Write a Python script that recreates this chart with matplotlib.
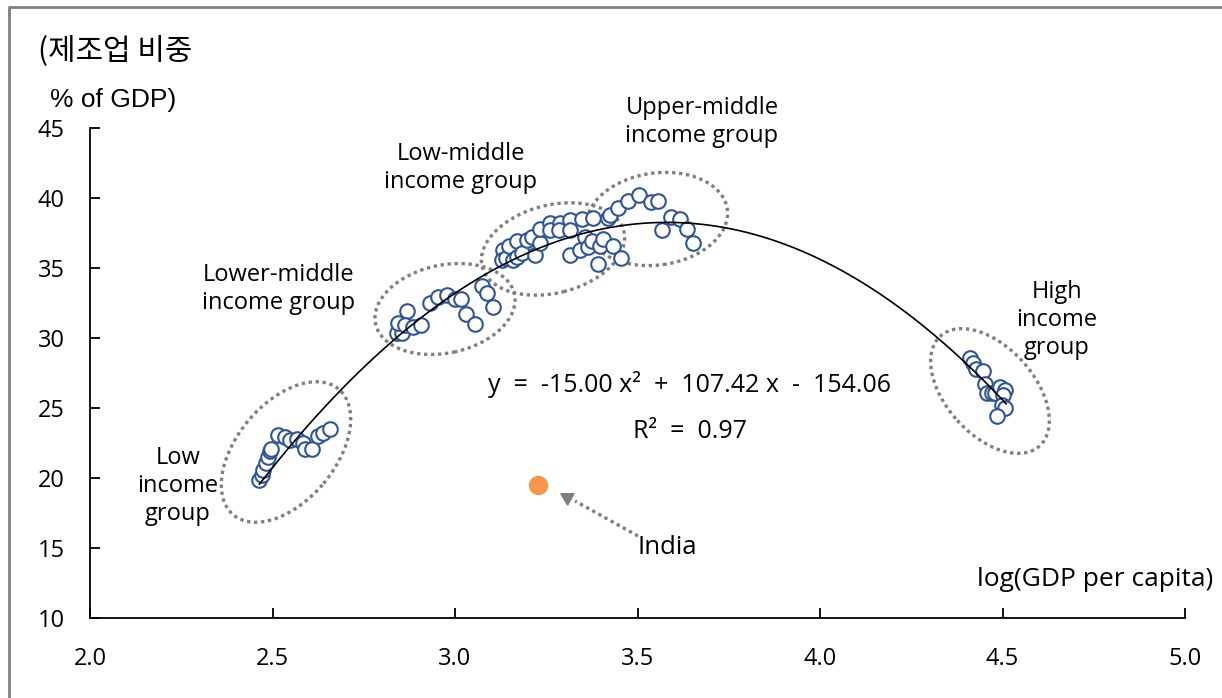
import matplotlib
matplotlib.use("Agg")
import matplotlib.pyplot as plt
import matplotlib.transforms as mtransforms
from matplotlib.patches import Ellipse
from matplotlib.lines import Line2D
import numpy as np

plt.rcParams['font.family'] = ['Open Sans', 'Noto Sans CJK KR', 'DejaVu Sans']

# ---------------- data ----------------
low_x = [2.464, 2.470, 2.475, 2.482, 2.488, 2.493, 2.496, 2.516, 2.534, 2.548,
         2.568, 2.584, 2.589, 2.607, 2.625, 2.639, 2.658]
low_y = [19.86, 20.2, 20.6, 21.05, 21.5, 21.9, 22.1, 23.07, 22.9, 22.7,
         22.8, 22.5, 22.07, 22.1, 23.0, 23.2, 23.5]

lowmid_x = [2.840, 2.854, 2.845, 2.868, 2.863, 2.886, 2.907, 2.932, 2.954, 2.979,
            3.000, 3.016, 3.030, 3.055, 3.073, 3.087, 3.103]
lowmid_y = [30.33, 30.33, 31.05, 31.95, 30.93, 30.8, 30.93, 32.5, 32.9, 33.07,
            32.8, 32.76, 31.7, 31.0, 33.7, 33.2, 32.2]

midlow_x = [3.132, 3.128, 3.141, 3.149, 3.169, 3.158, 3.169, 3.183, 3.198, 3.210,
            3.219, 3.233, 3.233, 3.260, 3.260, 3.288, 3.286, 3.315, 3.315, 3.315,
            3.342, 3.347, 3.356, 3.365, 3.374, 3.393, 3.397, 3.406, 3.434, 3.456,
            3.379, 3.420]
midlow_y = [36.3, 35.6, 35.7, 36.6, 36.9, 35.6, 35.76, 36.05, 37.0, 37.2,
            35.9, 36.76, 37.76, 38.2, 37.7, 38.2, 37.7, 38.4, 37.7, 35.9,
            36.3, 38.48, 37.2, 36.5, 36.9, 35.3, 36.6, 37.1, 36.6, 35.7,
            38.55, 38.55]

upmid_x = [3.425, 3.447, 3.475, 3.505, 3.536, 3.557, 3.566, 3.593, 3.616, 3.635, 3.653]
upmid_y = [38.8, 39.3, 39.8, 40.2, 39.7, 39.8, 37.7, 38.66, 38.48, 37.76, 36.8]

high_x = [4.411, 4.418, 4.427, 4.447, 4.452, 4.457, 4.470, 4.479, 4.493, 4.507,
          4.502, 4.498, 4.507, 4.484]
high_y = [28.6, 28.2, 27.8, 27.66, 26.7, 26.1, 26.05, 26.05, 26.48, 26.3,
          25.9, 25.2, 24.98, 24.4]

india_x = [3.228]
india_y = [19.5]

fit_coef = [-15.00, 107.42, -154.06]   # y = a x^2 + b x + c
fit_range = [2.464, 4.51]
r2 = 0.97

x_ticks = [2.0, 2.5, 3.0, 3.5, 4.0, 4.5, 5.0]
y_ticks = [10, 15, 20, 25, 30, 35, 40, 45]

# ---------------- figure ----------------
W, H = 1222, 698
fig = plt.figure(figsize=(W / 100, H / 100), dpi=100)
ax = fig.add_axes([90 / W, 1 - 618 / H, (1185 - 90) / W, (618 - 128) / H])

blue = '#2f5597'
all_x = low_x + lowmid_x + midlow_x + upmid_x + high_x
all_y = low_y + lowmid_y + midlow_y + upmid_y + high_y

xx = np.linspace(fit_range[0], fit_range[1], 300)
yy = np.polyval(fit_coef, xx)
ax.plot(xx, yy, color='black', lw=1.2, zorder=4)

ax.plot(all_x, all_y, 'o', ms=10.5, mfc='white', mec=blue, mew=1.5,
        linestyle='none', zorder=3)
ax.plot(india_x, india_y, 'o', ms=14, mfc='#f79646', mec='none', zorder=5)

ax.set_xlim(2.0, 5.0)
ax.set_ylim(10, 45)
ax.set_xticks(x_ticks)
ax.set_yticks(y_ticks)
ax.set_xticklabels([f'{v:.1f}' for v in x_ticks])
ax.set_yticklabels([str(v) for v in y_ticks])
for s in ['top', 'right']:
    ax.spines[s].set_visible(False)
for s in ['left', 'bottom']:
    ax.spines[s].set_linewidth(1.3)
ax.tick_params(direction='in', length=7, width=1.3, labelsize=17, colors='black')
ax.tick_params(axis='x', pad=21)
ax.tick_params(axis='y', pad=18)

# dotted ellipses (size in pixels, centered on data points)
def pix_ellipse(cx_px, cy_px, a, b, ang):
    cx = 2.0 + (cx_px - 90) / 365.0
    cy = 10 + (618 - cy_px) / 14.0
    tr = fig.dpi_scale_trans + mtransforms.ScaledTranslation(cx, cy, ax.transData)
    e = Ellipse((0, 0), 2 * a / 100, 2 * b / 100, angle=ang, transform=tr,
                fill=False, edgecolor='#7f7f7f', lw=2.4, linestyle=(0, (1, 1.1)),
                clip_on=False, zorder=2)
    e.set_capstyle('butt')
    ax.add_patch(e)

pix_ellipse(286, 452, 82, 49, 50)
pix_ellipse(445, 309, 71, 44, 12)
pix_ellipse(553, 249, 73, 44, 14)
pix_ellipse(657, 219, 71, 46, 8)
pix_ellipse(990, 391, 74, 44, -48)

def px(x, y):
    return (x / W, 1 - y / H)

fs = 17
fig.text(*px(38, 52), '(제조업 비중', fontsize=21.5, family=['Noto Sans CJK KR', 'DejaVu Sans'],
         ha='left', va='center')
fig.text(*px(50, 100), '% of GDP)', fontsize=19, family=['Liberation Sans', 'Noto Sans CJK KR'],
         ha='left', va='center')
fig.text(*px(1213, 580), 'log(GDP per capita)', fontsize=19, ha='right', va='center')

fig.text(*px(178, 486), 'Low\nincome\ngroup', fontsize=fs, ha='center', va='center',
         linespacing=1.22)
fig.text(*px(279, 289), 'Lower-middle\nincome group', fontsize=fs, ha='center',
         va='center', linespacing=1.22)
fig.text(*px(461, 168), 'Low-middle\nincome group', fontsize=fs, ha='center',
         va='center', linespacing=1.22)
fig.text(*px(702, 122), 'Upper-middle\nincome group', fontsize=fs, ha='center',
         va='center', linespacing=1.22)
fig.text(*px(1057, 320), 'High\nincome\ngroup', fontsize=fs, ha='center', va='center',
         linespacing=1.22)

a, b, c = fit_coef
eq = f'y  =  {a:.2f} x²  +  {b:.2f} x  -  {abs(c):.2f}'
fig.text(*px(690, 385), eq, fontsize=18, ha='center', va='center')
fig.text(*px(690, 432), f'R²  =  {r2:.2f}', fontsize=18, ha='center', va='center')
fig.text(*px(667, 547), 'India', fontsize=18.5, ha='center', va='center')

# dotted arrow to India
fig.add_artist(Line2D([638 / W, 575 / W], [1 - 536 / H, 1 - 501 / H],
                      color='#7f7f7f', lw=2.4, linestyle=(0, (1, 1.1))))
fig.add_artist(Line2D([567 / W], [1 - 497 / H], marker=(3, 0, 61), ms=11,
                      color='#7f7f7f', linestyle='none'))

# outer frame (left & top visible)
fig.add_artist(Line2D([9 / W, 9 / W, 1.0], [0.0, 1 - 7 / H, 1 - 7 / H],
                      color='#7f7f7f', lw=2.0))

fig.savefig('out.png', dpi=100)
